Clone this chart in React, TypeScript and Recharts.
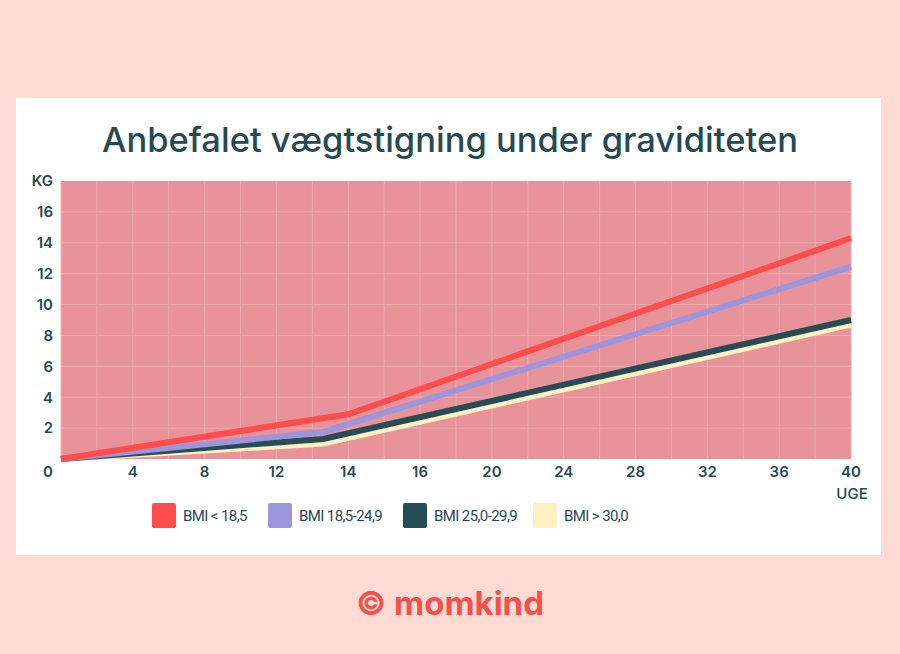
import React from "react";
import { CartesianGrid, Line, LineChart, XAxis, YAxis } from "recharts";

// week labels along the x axis (evenly spaced, not linear)
const weekTicks = [0, 4, 8, 12, 14, 16, 20, 24, 28, 32, 36, 40];
const kgTicks = [0, 2, 4, 6, 8, 10, 12, 14, 16, 18];

// each series: weeks and recommended gain in kg
const underWeeks = [0, 14, 40];
const underKg = [0, 2.9, 14.3];
const normalWeeks = [0, 13.3, 40];
const normalKg = [0, 1.75, 12.45];
const overWeeks = [0, 13.3, 40];
const overKg = [0, 1.3, 9.0];
const obeseWeeks = [0, 13.3, 40];
const obeseKg = [0, 1.0, 8.7];

const seriesNames = ["BMI < 18,5", "BMI 18,5-24,9", "BMI 25,0-29,9", "BMI > 30,0"];
const seriesColors = ["#ff4d4d", "#9d95db", "#264d55", "#fdf1c1"];

const textColor = "#264a52";

// map a week onto the evenly spaced tick positions
function weekToPos(w: number) {
  for (let i = 0; i < weekTicks.length - 1; i++) {
    const a = weekTicks[i];
    const b = weekTicks[i + 1];
    if (w >= a && w <= b) return i + (w - a) / (b - a);
  }
  return weekTicks.length - 1;
}

const toData = (weeks: number[], kg: number[]) =>
  weeks.map((w, i) => ({ pos: weekToPos(w), kg: kg[i] }));

const series = [
  toData(underWeeks, underKg),
  toData(normalWeeks, normalKg),
  toData(overWeeks, overKg),
  toData(obeseWeeks, obeseKg),
];

const posTicks = weekTicks.map((_, i) => i);
const halfTicks = weekTicks.flatMap((_, i) => (i < weekTicks.length - 1 ? [i, i + 0.5] : [i]));

function XTick(props: any) {
  const { x, y, payload } = props;
  const i = payload.value as number;
  const dx = i === 0 ? -13 : 0;
  return (
    <g>
      <text x={x + dx} y={y} dy={10} textAnchor="middle" fontSize={15} fontWeight={600} fill={textColor} fontFamily="Inter">
        {weekTicks[i]}
      </text>
      {i === weekTicks.length - 1 && (
        <text x={x + 1} y={y} dy={32} textAnchor="middle" fontSize={15} fontWeight={500} fill={textColor} fontFamily="Inter">
          UGE
        </text>
      )}
    </g>
  );
}

export default function App() {
  const order = [3, 2, 1, 0];
  const lefts = [152, 268, 403, 533];
  return (
    <div style={{ position: "absolute", left: 0, top: 0, width: 900, height: 654, background: "#fddbd4", fontFamily: "Inter" }}>
      <div style={{ position: "absolute", left: 16, top: 98, width: 865, height: 457, background: "#ffffff" }} />
      <div
        style={{
          position: "absolute",
          left: 0,
          top: 119,
          width: 900,
          textAlign: "center",
          fontSize: 34.5,
          fontWeight: 500,
          color: textColor,
        }}
      >
        Anbefalet vægtstigning under graviditeten
      </div>
      <div style={{ position: "absolute", left: 0, top: 0 }}>
        <LineChart width={900} height={560} margin={{ top: 181, right: 49, bottom: 71, left: 21 }}>
          <CartesianGrid
            fill="#e8939a"
            fillOpacity={1}
            stroke="#eeaab0"
            strokeWidth={1}
            verticalValues={halfTicks}
            horizontalValues={kgTicks.slice(1, -1)}
          />
          <XAxis
            type="number"
            dataKey="pos"
            domain={[0, weekTicks.length - 1]}
            ticks={posTicks}
            tick={<XTick />}
            tickLine={false}
            axisLine={false}
            height={30}
            interval={0}
            allowDuplicatedCategory={false}
          />
          <YAxis
            type="number"
            dataKey="kg"
            domain={[0, 18]}
            ticks={kgTicks}
            tickFormatter={(v) => (v === 0 ? "" : v === 18 ? "KG" : String(v))}
            tick={{ fontSize: 15, fontWeight: 600, fill: textColor, fontFamily: "Inter" }}
            tickLine={false}
            axisLine={false}
            width={40}
            interval={0}
          />
          {order.map((i) => (
            <Line
              key={seriesNames[i]}
              data={series[i]}
              dataKey="kg"
              name={seriesNames[i]}
              type="linear"
              stroke={seriesColors[i]}
              strokeWidth={6}
              dot={false}
              activeDot={false}
              isAnimationActive={false}
            />
          ))}
        </LineChart>
      </div>
      <div style={{ position: "absolute", left: 0, top: 503, width: 900, height: 25 }}>
        {seriesNames.map((name, i) => (
          <div key={name} style={{ position: "absolute", left: lefts[i], top: 0, display: "flex", alignItems: "center" }}>
            <div style={{ width: 24, height: 25, background: seriesColors[i], borderRadius: 2 }} />
            <span
              style={{
                marginLeft: 7,
                fontSize: 15,
                fontFamily: "Roboto",
                letterSpacing: -0.6,
                color: textColor,
                whiteSpace: "nowrap",
              }}
            >
              {name}
            </span>
          </div>
        ))}
      </div>
      <div
        style={{
          position: "absolute",
          left: 0,
          top: 583,
          width: 900,
          textAlign: "center",
          fontSize: 33,
          fontWeight: 700,
          color: "#f5504c",
        }}
      >
        © momkind
      </div>
    </div>
  );
}
